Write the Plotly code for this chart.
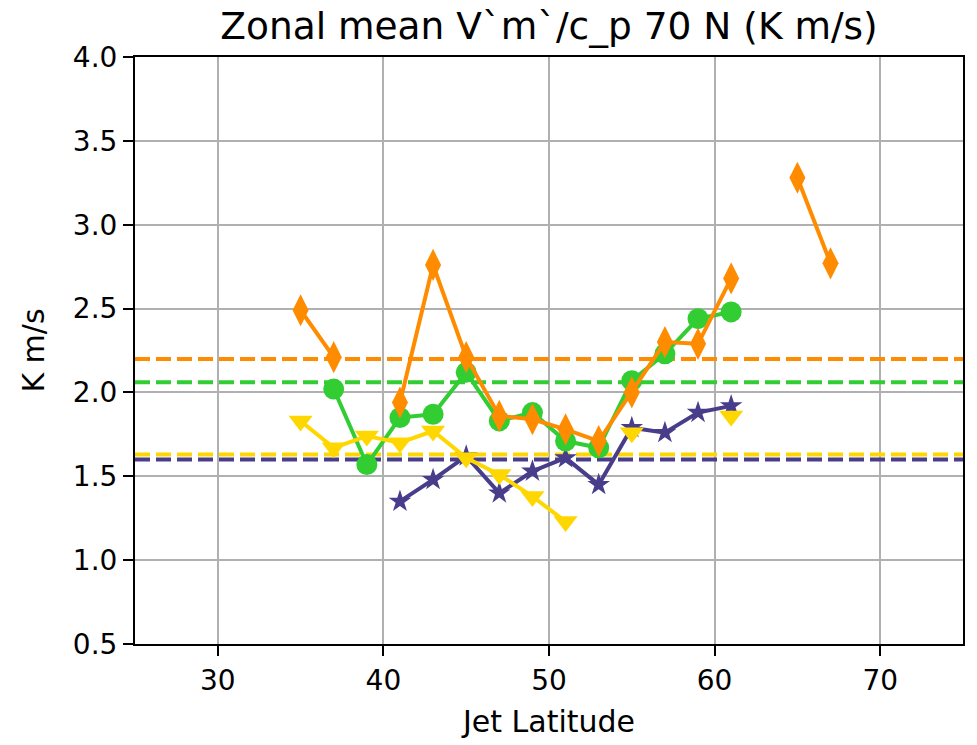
import plotly.graph_objects as go

lats = [35, 37, 39, 41, 43, 45, 47, 49, 51, 53, 55, 57, 59, 61, 63, 65, 67]

purple_vals = [None, None, None, 1.35, 1.48, 1.62, 1.40, 1.53, 1.61, 1.45, 1.79, 1.76, 1.88, 1.92, None, None, None]
green_vals = [None, 2.02, 1.57, 1.85, 1.87, 2.12, 1.83, 1.88, 1.71, 1.67, 2.07, 2.23, 2.44, 2.48, None, None, None]
yellow_vals = [1.83, 1.67, 1.74, 1.70, 1.77, 1.61, 1.51, 1.38, 1.23, None, 1.76, None, None, 1.86, None, None, None]
orange_vals = [2.49, 2.21, None, 1.94, 2.76, 2.21, 1.86, 1.84, 1.78, 1.71, 2.00, 2.30, 2.29, 2.68, None, 3.28, 2.77]

means = {"purple": 1.60, "green": 2.06, "yellow": 1.63, "orange": 2.20}

colors = {"purple": "#483D8B", "green": "#32CD32", "yellow": "#FFD700", "orange": "#FF8C00"}
x_range = [25, 75]
y_range = [0.5, 4.0]
x_ticks = [30, 40, 50, 60, 70]
y_ticks = [0.5, 1.0, 1.5, 2.0, 2.5, 3.0, 3.5, 4.0]

fig = go.Figure()

for key in ["purple", "green", "yellow", "orange"]:
    fig.add_trace(go.Scatter(
        x=x_range, y=[means[key]] * 2, mode="lines",
        line=dict(color=colors[key], width=4, dash="15px,6px"),
        showlegend=False, hoverinfo="skip"))

series = [
    ("purple", purple_vals, "star", 17),
    ("green", green_vals, "circle", 21),
    ("yellow", yellow_vals, "triangle-down", 21),
    ("orange", orange_vals, "diamond-tall", 23),
]
for key, vals, sym, size in series:
    fig.add_trace(go.Scatter(
        x=lats, y=vals, mode="lines+markers",
        line=dict(color=colors[key], width=4),
        marker=dict(symbol=sym, size=size, color=colors[key], line=dict(width=0)),
        connectgaps=False, showlegend=False))

axis_common = dict(
    showgrid=True, gridcolor="#b0b0b0", gridwidth=2,
    showline=True, linecolor="black", linewidth=2, mirror=True,
    ticks="outside", ticklen=10, tickwidth=2, tickcolor="black",
    tickfont=dict(size=28, color="black"), zeroline=False,
)

fig.update_layout(
    width=977, height=745,
    margin=dict(l=135, r=12, t=57, b=100),
    paper_bgcolor="white", plot_bgcolor="white",
    font=dict(family="DejaVu Sans", color="black"),
    title=dict(text="Zonal mean V`m`/c_p 70 N (K m/s)", x=0.5, xanchor="center", xref="paper",
               y=1 - 26 / 745, yanchor="middle", font=dict(size=37.5)),
    xaxis=dict(range=x_range, tickvals=x_ticks,
               title=dict(text="Jet Latitude", font=dict(size=30), standoff=15), **axis_common),
    yaxis=dict(range=y_range, tickvals=y_ticks,
               ticktext=[f"{v:.1f}" for v in y_ticks],
               title=dict(text="K m/s", font=dict(size=30), standoff=19), **axis_common),
)

fig.write_html(
    "out.html",
    config={"displayModeBar": False},
    post_script="document.body.style.margin='0';document.body.style.overflow='hidden';",
)
